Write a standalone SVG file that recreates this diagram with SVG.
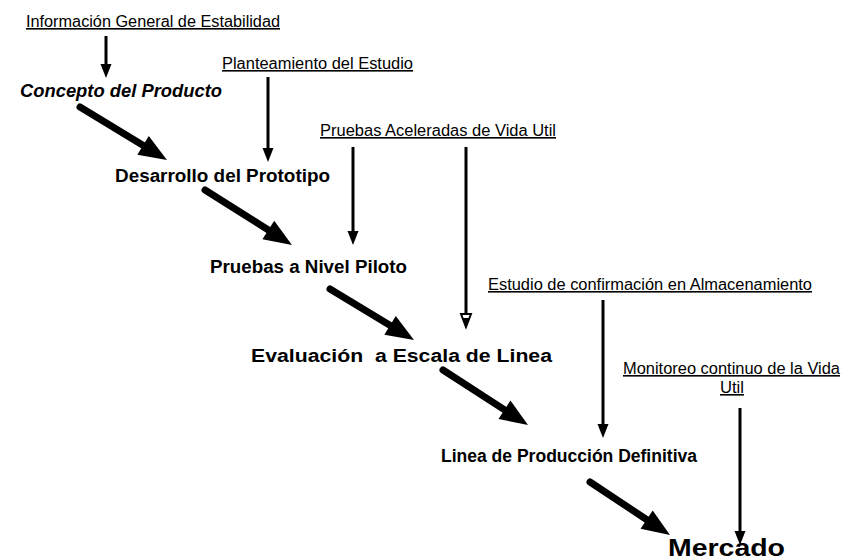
<svg xmlns="http://www.w3.org/2000/svg" width="846" height="560" viewBox="0 0 846 560">
<style>
.lbl{font-family:"Liberation Sans",Arial,sans-serif;font-size:16px;fill:#000;text-decoration:underline;}
.stg{font-family:"Liberation Sans",Arial,sans-serif;font-size:18px;font-weight:bold;fill:#000;}
.thin{stroke:#000;stroke-width:3;fill:none;marker-end:url(#ah);}
.thick{stroke:#000;stroke-width:7;stroke-linecap:round;fill:none;marker-end:url(#big);}
</style>
<defs>
<marker id="ah" markerUnits="userSpaceOnUse" markerWidth="16" markerHeight="12" refX="2" refY="5.5" orient="auto" overflow="visible">
<path d="M0,0 L14,5.5 L0,11 z" fill="#000"/>
</marker>
<marker id="hollow" markerUnits="userSpaceOnUse" markerWidth="16" markerHeight="12" refX="2" refY="5.5" orient="auto" overflow="visible">
<path d="M0,0.5 L13,5.5 L0,10.5 z" fill="#fff" stroke="#000" stroke-width="2"/>
<path d="M4,2.5 L12,5.5 L4,8.5 z" fill="#000"/>
</marker>
<marker id="big" markerUnits="userSpaceOnUse" markerWidth="30" markerHeight="24" refX="8" refY="11" orient="auto" overflow="visible">
<path d="M0,0 L28,11 L0,22 z" fill="#000"/>
</marker>
</defs>
<rect width="846" height="560" fill="#fff"/>

<g id="connectors">
<line class="thin" x1="106" y1="36" x2="106" y2="66"/>
<line class="thin" x1="268" y1="77" x2="268" y2="150"/>
<line class="thin" x1="353" y1="147" x2="353" y2="233"/>
<line x1="466" y1="147" x2="466" y2="316" stroke="#000" stroke-width="3" marker-end="url(#hollow)"/>
<line class="thin" x1="603" y1="300" x2="603" y2="426"/>
<line class="thin" x1="740" y1="408" x2="740" y2="533"/>
<line class="thick" x1="80" y1="107" x2="149.9" y2="149.6"/>
<line class="thick" x1="205" y1="190" x2="275.1" y2="234.3"/>
<line class="thick" x1="330" y1="289" x2="396.9" y2="329.6"/>
<line class="thick" x1="443" y1="370" x2="511.2" y2="414.1"/>
<line class="thick" x1="590" y1="482" x2="653.3" y2="524"/>
</g>

<g id="info-general"><text class="lbl" x="26" y="27" textLength="254" lengthAdjust="spacingAndGlyphs">Información General de Estabilidad</text></g>
<g id="planteamiento"><text class="lbl" x="222" y="69" textLength="191" lengthAdjust="spacingAndGlyphs">Planteamiento del Estudio</text></g>
<g id="pruebas-aceleradas"><text class="lbl" x="320" y="136" textLength="236" lengthAdjust="spacingAndGlyphs">Pruebas Aceleradas de Vida Util</text></g>
<g id="estudio-confirmacion"><text class="lbl" x="488" y="290" textLength="324" lengthAdjust="spacingAndGlyphs">Estudio de confirmación en Almacenamiento</text></g>
<g id="monitoreo">
<text class="lbl" x="623" y="374" textLength="217" lengthAdjust="spacingAndGlyphs">Monitoreo continuo de la Vida</text>
<text class="lbl" x="720" y="393" textLength="24" lengthAdjust="spacingAndGlyphs">Util</text>
</g>

<g id="concepto"><text class="stg" x="20" y="97" font-style="italic" textLength="202" lengthAdjust="spacingAndGlyphs">Concepto del Producto</text></g>
<g id="desarrollo"><text class="stg" x="115" y="182" textLength="215" lengthAdjust="spacingAndGlyphs">Desarrollo del Prototipo</text></g>
<g id="piloto"><text class="stg" x="210" y="273" textLength="197" lengthAdjust="spacingAndGlyphs">Pruebas a Nivel Piloto</text></g>
<g id="evaluacion"><text class="stg" x="251" y="362" xml:space="preserve" textLength="301" lengthAdjust="spacingAndGlyphs">Evaluación  a Escala de Linea</text></g>
<g id="linea-produccion"><text class="stg" x="441" y="462" textLength="256" lengthAdjust="spacingAndGlyphs">Linea de Producción Definitiva</text></g>
<g id="mercado"><text class="stg" x="668" y="556" style="font-size:23px" textLength="117" lengthAdjust="spacingAndGlyphs">Mercado</text></g>
</svg>
